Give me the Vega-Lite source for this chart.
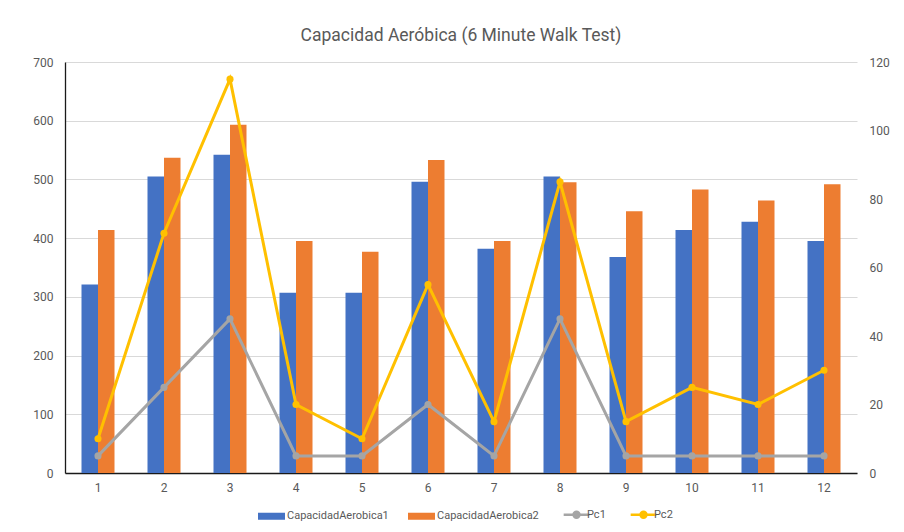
{
  "$schema": "https://vega.github.io/schema/vega-lite/v6.json",
  "width": 792,
  "height": 411,
  "autosize": {"type": "none"},
  "padding": {"left": 65, "top": 62, "right": 47, "bottom": 59},
  "background": "white",
  "title": {
    "text": "Capacidad Aeróbica (6 Minute Walk Test)",
    "font": "Roboto",
    "fontSize": 17.5,
    "fontWeight": "normal",
    "color": "#595959",
    "anchor": "middle",
    "offset": 12
  },
  "config": {
    "view": {"stroke": null},
    "axis": {
      "labelFont": "Roboto",
      "labelFontSize": 12,
      "labelColor": "#595959",
      "ticks": false,
      "titleFontSize": 0
    }
  },
  "datasets": {
    "capacidad": [
      {"cat": 1, "series": "CapacidadAerobica1", "value": 321},
      {"cat": 1, "series": "CapacidadAerobica2", "value": 414},
      {"cat": 2, "series": "CapacidadAerobica1", "value": 505},
      {"cat": 2, "series": "CapacidadAerobica2", "value": 537},
      {"cat": 3, "series": "CapacidadAerobica1", "value": 542},
      {"cat": 3, "series": "CapacidadAerobica2", "value": 593},
      {"cat": 4, "series": "CapacidadAerobica1", "value": 307},
      {"cat": 4, "series": "CapacidadAerobica2", "value": 395},
      {"cat": 5, "series": "CapacidadAerobica1", "value": 307},
      {"cat": 5, "series": "CapacidadAerobica2", "value": 377},
      {"cat": 6, "series": "CapacidadAerobica1", "value": 496},
      {"cat": 6, "series": "CapacidadAerobica2", "value": 533},
      {"cat": 7, "series": "CapacidadAerobica1", "value": 382},
      {"cat": 7, "series": "CapacidadAerobica2", "value": 395},
      {"cat": 8, "series": "CapacidadAerobica1", "value": 505},
      {"cat": 8, "series": "CapacidadAerobica2", "value": 495},
      {"cat": 9, "series": "CapacidadAerobica1", "value": 368},
      {"cat": 9, "series": "CapacidadAerobica2", "value": 446},
      {"cat": 10, "series": "CapacidadAerobica1", "value": 414},
      {"cat": 10, "series": "CapacidadAerobica2", "value": 483},
      {"cat": 11, "series": "CapacidadAerobica1", "value": 428},
      {"cat": 11, "series": "CapacidadAerobica2", "value": 464},
      {"cat": 12, "series": "CapacidadAerobica1", "value": 395},
      {"cat": 12, "series": "CapacidadAerobica2", "value": 492}
    ],
    "pc": [
      {"cat": 1, "series": "Pc1", "value": 5},
      {"cat": 2, "series": "Pc1", "value": 25},
      {"cat": 3, "series": "Pc1", "value": 45},
      {"cat": 4, "series": "Pc1", "value": 5},
      {"cat": 5, "series": "Pc1", "value": 5},
      {"cat": 6, "series": "Pc1", "value": 20},
      {"cat": 7, "series": "Pc1", "value": 5},
      {"cat": 8, "series": "Pc1", "value": 45},
      {"cat": 9, "series": "Pc1", "value": 5},
      {"cat": 10, "series": "Pc1", "value": 5},
      {"cat": 11, "series": "Pc1", "value": 5},
      {"cat": 12, "series": "Pc1", "value": 5},
      {"cat": 1, "series": "Pc2", "value": 10},
      {"cat": 2, "series": "Pc2", "value": 70},
      {"cat": 3, "series": "Pc2", "value": 115},
      {"cat": 4, "series": "Pc2", "value": 20},
      {"cat": 5, "series": "Pc2", "value": 10},
      {"cat": 6, "series": "Pc2", "value": 55},
      {"cat": 7, "series": "Pc2", "value": 15},
      {"cat": 8, "series": "Pc2", "value": 85},
      {"cat": 9, "series": "Pc2", "value": 15},
      {"cat": 10, "series": "Pc2", "value": 25},
      {"cat": 11, "series": "Pc2", "value": 20},
      {"cat": 12, "series": "Pc2", "value": 30}
    ]
  },
  "layer": [
    {
      "data": {"name": "capacidad"},
      "mark": {"type": "bar"},
      "encoding": {
        "x": {
          "field": "cat",
          "type": "ordinal",
          "scale": {"paddingInner": 0, "paddingOuter": 0},
          "axis": {
            "title": null,
            "labelAngle": 0,
            "labelPadding": 9,
            "domainColor": "#1a1a1a",
            "domainWidth": 1.3,
            "grid": false
          }
        },
        "xOffset": {
          "field": "series",
          "scale": {"paddingInner": 0, "paddingOuter": 1.13}
        },
        "y": {
          "field": "value",
          "type": "quantitative",
          "scale": {"domain": [0, 700]},
          "axis": {
            "title": null,
            "values": [0, 100, 200, 300, 400, 500, 600, 700],
            "labelPadding": 12,
            "grid": true,
            "gridColor": "#D9D9D9",
            "gridWidth": 1.2,
            "domain": true,
            "domainColor": "#1a1a1a",
            "domainWidth": 1.3
          }
        },
        "color": {
          "field": "series",
          "type": "nominal",
          "scale": {
            "domain": ["CapacidadAerobica1", "CapacidadAerobica2", "Pc1", "Pc2"],
            "range": ["#4472C4", "#ED7D31", "#A5A5A5", "#FFC000"]
          },
          "legend": {
            "title": null,
            "orient": "none",
            "direction": "horizontal",
            "legendX": 201,
            "legendY": 447,
            "padding": 0,
            "columnPadding": 19,
            "labelOffset": 10,
            "labelFont": "Roboto",
            "labelFontSize": 11,
            "labelColor": "#595959",
            "symbolSize": 729,
            "encode": {
              "symbols": {
                "update": {
                  "shape": {"signal": "indexof(['Pc1','Pc2'], datum.value) >= 0 ? 'M-0.95,0H-0.22A0.22,0.22 0 1,1 0.22,0A0.22,0.22 0 1,1 -0.22,0ZM0.22,0H0.95' : 'M-1,-0.26H1V0.26H-1Z'"},
                  "fill": {"scale": "color", "field": "value"},
                  "stroke": {"scale": "color", "field": "value"},
                  "strokeWidth": {"signal": "indexof(['Pc1','Pc2'], datum.value) >= 0 ? 2.5 : 0"},
                  "opacity": {"value": 1},
                  "fillOpacity": {"value": 1}
                }
              },
              "labels": {
                "update": {
                  "dx": {"signal": "indexof(['Pc1','Pc2'], datum.value) >= 0 ? -5 : 0"}
                }
              }
            }
          }
        }
      }
    },
    {
      "data": {"name": "pc"},
      "mark": {
        "type": "line",
        "strokeWidth": 3,
        "point": {"filled": true, "size": 50, "opacity": 1}
      },
      "encoding": {
        "x": {"field": "cat", "type": "ordinal"},
        "y": {
          "field": "value",
          "type": "quantitative",
          "scale": {"domain": [0, 120]},
          "axis": {
            "title": null,
            "orient": "right",
            "values": [0, 20, 40, 60, 80, 100, 120],
            "labelPadding": 12,
            "grid": false,
            "domain": false
          }
        },
        "color": {"field": "series", "type": "nominal"}
      }
    }
  ],
  "resolve": {"scale": {"y": "independent"}}
}
